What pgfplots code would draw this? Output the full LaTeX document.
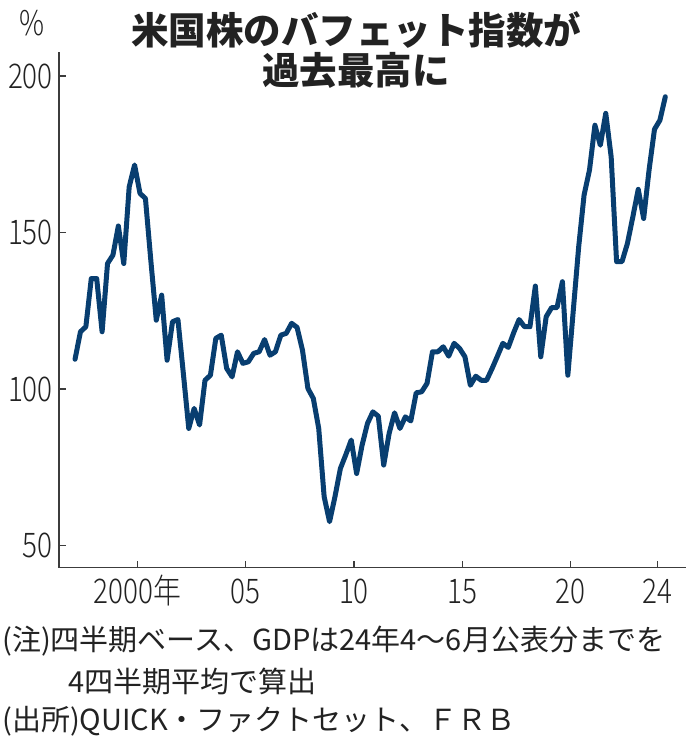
\documentclass[border=0pt]{standalone}
\usepackage{fontspec}
\usepackage{pgfplots}
\pgfplotsset{compat=1.18}
\usepackage{pgfplotstable}
\setmainfont{Noto Sans CJK JP}
\newfontfamily\tickfont{Noto Sans CJK JP Light}[FakeStretch=0.82]
\definecolor{linec}{RGB}{8,62,112}
\definecolor{txt}{RGB}{34,34,34}
\definecolor{axisc}{RGB}{60,60,60}
\pgfplotstableread{
t v
1997.125 109.5
1997.375 118.3
1997.625 119.9
1997.875 135.3
1998.125 135.3
1998.375 118.3
1998.625 140.1
1998.875 142.8
1999.125 152.1
1999.375 140.1
1999.625 164.6
1999.875 171.6
2000.125 162.5
2000.375 160.9
2000.625 141.0
2000.875 122.0
2001.125 130.0
2001.375 109.2
2001.625 121.5
2001.875 122.2
2002.125 105.0
2002.375 87.4
2002.625 93.8
2002.875 88.5
2003.125 102.8
2003.375 104.4
2003.625 116.2
2003.875 117.2
2004.125 106.6
2004.375 103.9
2004.625 111.9
2004.875 108.2
2005.125 108.7
2005.375 111.4
2005.625 111.9
2005.875 115.8
2006.125 110.8
2006.375 111.9
2006.625 117.2
2006.875 117.8
2007.125 121.0
2007.375 119.7
2007.625 112.4
2007.875 100.2
2008.125 97.0
2008.375 87.4
2008.625 65.6
2008.875 57.6
2009.125 65.6
2009.375 74.6
2009.625 79.0
2009.875 83.7
2010.125 73.0
2010.375 82.0
2010.625 89.0
2010.875 92.7
2011.125 91.3
2011.375 75.7
2011.625 85.8
2011.875 92.4
2012.125 87.4
2012.375 91.1
2012.625 89.8
2012.875 98.8
2013.125 99.1
2013.375 101.8
2013.625 111.9
2013.875 111.9
2014.125 113.5
2014.375 110.5
2014.625 114.6
2014.875 113.0
2015.125 110.3
2015.375 101.2
2015.625 104.1
2015.875 102.8
2016.125 102.8
2016.375 106.5
2016.625 110.5
2016.875 114.6
2017.125 113.3
2017.375 118.0
2017.625 122.2
2017.875 119.9
2018.125 119.9
2018.375 132.9
2018.625 110.3
2018.875 123.1
2019.125 126.0
2019.375 126.0
2019.625 134.3
2019.875 104.4
2020.125 125.0
2020.375 145.4
2020.625 162.0
2020.875 170.0
2021.125 184.3
2021.375 177.9
2021.625 188.1
2021.875 174.2
2022.125 140.7
2022.375 140.7
2022.625 146.5
2022.875 155.0
2023.125 163.8
2023.375 154.5
2023.625 170.0
2023.875 183.0
2024.125 185.9
2024.375 193.4
}\buffett
\begin{document}
\begin{tikzpicture}[x=1pt,y=1pt]
\path[use as bounding box] (0,0) rectangle (700,744);
\begin{axis}[
  at={(59pt,176.3pt)}, anchor=south west,
  scale only axis, width=627pt, height=515.7pt,
  xmin=1996.385, xmax=2025.33, ymin=42.9, ymax=207.7,
  axis x line*=bottom, axis y line*=left,
  axis line style={draw=axisc, line width=1.3pt, -},
  xtick={2000,2005,2010,2015,2020,2024},
  xticklabels={2000年,05,10,15,20,24},
  ytick={50,100,150,200},
  yticklabels={50,100,150,200},
  tick align=inside, major tick length=7pt,
  tick style={draw=axisc, line width=1.2pt},
  ticklabel style={font=\tickfont\fontsize{34}{34}\selectfont, text=txt},
  xticklabel style={inner sep=0pt, text height=24.5pt, text depth=0pt, anchor=north, yshift=-11pt},
  yticklabel style={inner sep=0pt, text height=24.5pt, text depth=0pt, anchor=east, xshift=-6pt},
]
\addplot[linec, line width=5pt, line join=round, line cap=round] table[x=t, y=v] {\buffett};
\end{axis}
\node[font=\tickfont\fontsize{34}{34}\selectfont, text=txt] at (32,721) {\%};
\node[font=\bfseries\fontsize{37.5}{40}\selectfont, text=txt, align=center] at (356,693.5) {米国株のバフェット指数が\\過去最高に};
\node[anchor=west, inner sep=0pt, font=\fontsize{29}{29}\selectfont, text=txt] at (2,103) {(注)四半期ベース、GDPは24年4～6月公表分までを};
\node[anchor=west, inner sep=0pt, font=\fontsize{29}{29}\selectfont, text=txt] at (68,63) {4四半期平均で算出};
\node[anchor=west, inner sep=0pt, font=\fontsize{29}{29}\selectfont, text=txt] at (2,23) {(出所)QUICK・ファクトセット、ＦＲＢ};
\end{tikzpicture}
\end{document}
